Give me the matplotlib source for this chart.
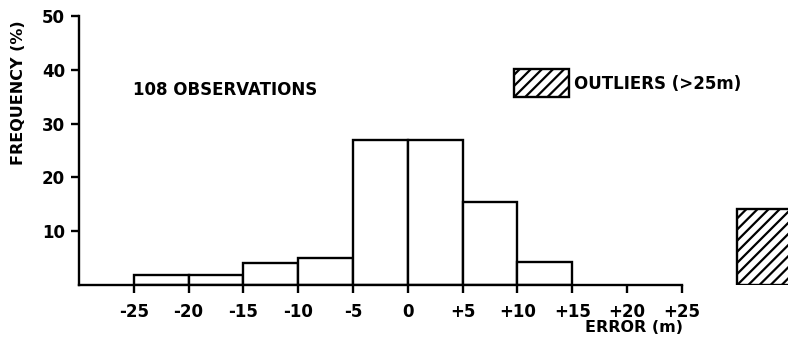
import numpy as np
import matplotlib
matplotlib.use('Agg')
import matplotlib.pyplot as plt
from matplotlib.patches import Rectangle

# bin left edges (m) and frequency (%)
bin_left = [-25, -20, -15, -10, -5, 0, 5, 10]
freq = [1.9, 1.9, 4.1, 5.0, 26.9, 26.9, 15.4, 4.2]
outlier_left = 30
outlier_freq = 14.2

xticks = [-25, -20, -15, -10, -5, 0, 5, 10, 15, 20, 25]
xticklabels = ['-25', '-20', '-15', '-10', '-5', '0', '+5', '+10', '+15', '+20', '+25']
yticks = [10, 20, 30, 40, 50]

plt.rcParams['font.family'] = ['DejaVu Sans']
plt.rcParams['font.weight'] = 'bold'
plt.rcParams['hatch.linewidth'] = 1.6

W, H = 788, 338
fig = plt.figure(figsize=(W / 100, H / 100), dpi=100)
# axes placed in pixels: x from 79 to 788, y from 285 (0) up to 16 (50)
ax = fig.add_axes([79 / W, (H - 285) / H, (788 - 79) / W, (285 - 16) / H])

lw = 1.7
ax.bar(bin_left, freq, width=5, align='edge', facecolor='white',
       edgecolor='black', linewidth=lw)
ax.bar([outlier_left], [outlier_freq], width=5, align='edge', facecolor='white',
       edgecolor='black', linewidth=lw, hatch='///')

ax.set_xlim(-30, -30 + (788 - 79) / 10.96)
ax.set_ylim(0, 50)

ax.spines['top'].set_visible(False)
ax.spines['right'].set_visible(False)
ax.spines['bottom'].set_bounds(-30, 25)
ax.spines['left'].set_linewidth(lw)
ax.spines['bottom'].set_linewidth(lw)

ax.set_xticks(xticks)
ax.set_xticklabels(xticklabels)
ax.set_yticks(yticks)
ax.tick_params(axis='both', direction='out', length=6, width=lw,
               labelsize=12, pad=4)
ax.tick_params(axis='x', pad=7)
for lab in ax.get_xticklabels() + ax.get_yticklabels():
    lab.set_fontweight('bold')

fig.text(19 / W, 1 - 93 / H, 'FREQUENCY (%)', rotation=90, ha='center',
         va='center', fontsize=11.5, fontweight='bold')
fig.text(634 / W, 1 - 328 / H, 'ERROR (m)', ha='center', va='center',
         fontsize=11.5, fontweight='bold')
fig.text(133 / W, 1 - 90 / H, '108 OBSERVATIONS', ha='left', va='center',
         fontsize=12, fontweight='bold')

# legend swatch for the outliers
fig.patches.append(Rectangle((514 / W, 1 - 97 / H), 55 / W, 28 / H,
                             transform=fig.transFigure, facecolor='white',
                             edgecolor='black', linewidth=lw, hatch='///'))
fig.text(574 / W, 1 - 84 / H, 'OUTLIERS (>25m)', ha='left', va='center',
         fontsize=12, fontweight='bold')

fig.savefig('out.png', dpi=100)
